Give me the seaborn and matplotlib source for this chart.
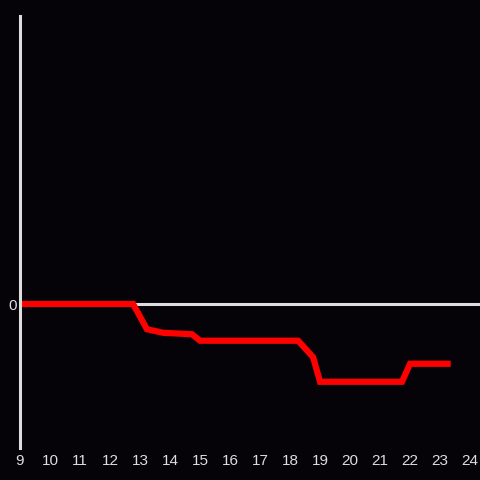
import matplotlib
matplotlib.use("Agg")
import matplotlib.pyplot as plt
import seaborn as sns
import pandas as pd

hours = [9.0, 12.77, 13.23, 13.77, 14.73, 15.0, 18.27, 18.77, 19.0, 21.73, 22.0, 23.25]
values = [0.0, 0.0, -1.75, -2.0, -2.1, -2.55, -2.55, -3.7, -5.4, -5.4, -4.15, -4.15]
xticks = list(range(9, 25))

bg = "#050308"
fg = "#dddddd"

sns.set_style("dark")
plt.rcParams["font.family"] = ["Liberation Sans", "DejaVu Sans"]
df = pd.DataFrame({"hour": hours, "value": values})

fig = plt.figure(figsize=(4.8, 4.8), dpi=100, facecolor=bg)
ax = fig.add_axes([20 / 480, 32 / 480, 460 / 480, 432 / 480])
ax.set_facecolor(bg)

ax.axhline(0, color=fg, lw=2.2, zorder=1)
sns.lineplot(data=df, x="hour", y="value", ax=ax, color="#ff0000", lw=4.5,
             zorder=2, solid_capstyle="projecting", solid_joinstyle="miter")

ax.set_xlim(9, 24.33)
ax.set_ylim(-10, 20)
ax.set_xticks(xticks)
ax.set_xticklabels([str(t) for t in xticks])
ax.set_yticks([0])
ax.set_yticklabels(["0"])
ax.tick_params(colors=fg, labelsize=11, length=0)
ax.tick_params(axis="x", pad=4.5)
ax.tick_params(axis="y", pad=2.5)
ax.set_xlabel("")
ax.set_ylabel("")
ax.grid(False)
for s in ["top", "right", "bottom"]:
    ax.spines[s].set_visible(False)
ax.spines["left"].set_color(fg)
ax.spines["left"].set_linewidth(2.2)
ax.spines["left"].set_zorder(3)

fig.savefig("out.png", dpi=100, facecolor=bg)
